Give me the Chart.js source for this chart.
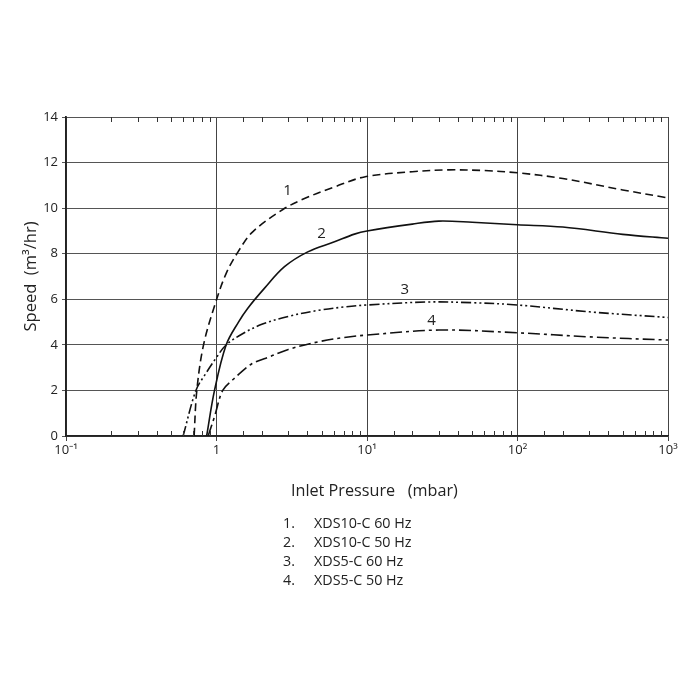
<!DOCTYPE html>
<html>
<head>
<meta charset="utf-8">
<script src="https://cdn.jsdelivr.net/npm/chart.js@4.4.1/dist/chart.umd.min.js"></script>
<style>
  body{margin:0;background:#fff;font-family:"Open Sans",sans-serif;color:#222;}
  #wrap{position:relative;width:700px;height:700px;}
  #xtitle{position:absolute;left:291px;top:479px;font-size:16.2px;white-space:pre;}
  #legend{position:absolute;left:283px;top:513px;font-size:14.3px;line-height:19px;margin:0;padding:0;list-style:none;white-space:pre;}
  #legend span{display:inline-block;width:31px;}
</style>
</head>
<body>
<div id="wrap">
  <canvas id="chart"></canvas>
  <div id="xtitle"></div>
  <ul id="legend"></ul>
</div>
<script>
// values (pressure in mbar, speed in m3/hr)
const names = ['XDS10-C 60 Hz','XDS10-C 50 Hz','XDS5-C 60 Hz','XDS5-C 50 Hz'];

const p1 = [0.71,0.74,0.82,0.98,1.16,1.39,1.74,2.76,3.84,6.08,9.6,20,35,60,100,200,500,1000];
const s1 = [0,2,4,5.8,7.14,8.08,8.96,9.94,10.42,10.93,11.37,11.6,11.68,11.65,11.55,11.3,10.8,10.45];

const p2 = [0.86,0.97,1.16,1.4,1.61,2.08,2.83,4.04,6.08,8.25,10,20,30,50,100,200,500,1000];
const s2 = [0,2,4,5.0,5.6,6.48,7.43,8.08,8.52,8.86,9.0,9.3,9.43,9.38,9.27,9.17,8.85,8.68];

const p3 = [0.6,0.73,0.85,1.0,1.16,1.5,2,3,4.8,7,10,25,50,100,300,1000];
const s3 = [0,2,2.75,3.45,4,4.5,4.9,5.25,5.52,5.66,5.75,5.88,5.85,5.75,5.45,5.2];

const p4 = [0.88,0.97,1.1,1.3,1.7,2.3,3,4.8,7,10,30,100,300,1000];
const s4 = [0,0.85,2,2.5,3.15,3.5,3.8,4.14,4.32,4.43,4.65,4.53,4.35,4.21];

// curve number labels, in data units
const tagX = [2.97,4.98,17.8,26.8];
const tagY = [10.75,8.86,6.4,5.04];

const decades = [0.1,1,10,100,1000];
const xTickLabels = ['10\u207B\u00B9','1','10\u00B9','10\u00B2','10\u00B3'];
const yTicks = [0,2,4,6,8,10,12,14];

const dashes = [[8,4.5],[],[10,3,2,3,2,3],[12,4,3,4]];

document.getElementById('xtitle').textContent = 'Inlet Pressure   (mbar)';
document.getElementById('legend').innerHTML = names.map((n,i)=>'<li><span>'+(i+1)+'.</span>'+n+'</li>').join('');

const zip = (xs,ys)=>xs.map((x,i)=>({x:x,y:ys[i]}));
const series = [zip(p1,s1),zip(p2,s2),zip(p3,s3),zip(p4,s4)];

const isDecade = v => Math.abs(Math.log10(v) - Math.round(Math.log10(v))) < 1e-6;

// minor ticks inside the box, top and bottom
const minorTicks = {
  id:'minorTicks',
  afterDatasetsDraw(chart){
    const c = chart.ctx, xs = chart.scales.x, a = chart.chartArea;
    c.save();
    c.strokeStyle = '#333';
    c.lineWidth = 1;
    xs.ticks.forEach(t=>{
      if(isDecade(t.value)) return;
      const px = Math.round(xs.getPixelForValue(t.value)) + 0.5;
      c.beginPath();
      c.moveTo(px,a.bottom); c.lineTo(px,a.bottom-5);
      c.moveTo(px,a.top); c.lineTo(px,a.top+5);
      c.stroke();
    });
    c.restore();
  }
};

const curveTags = {
  id:'curveTags',
  afterDatasetsDraw(chart){
    const c = chart.ctx, xs = chart.scales.x, ys = chart.scales.y;
    c.save();
    c.fillStyle = '#222';
    c.font = '15px "Open Sans"';
    c.textAlign = 'center';
    c.textBaseline = 'middle';
    tagX.forEach((v,i)=>{
      c.fillText(String(i+1), xs.getPixelForValue(v), ys.getPixelForValue(tagY[i]));
    });
    c.restore();
  }
};

let ctx = document.getElementById('chart').getContext('2d');
let chart = new Chart(ctx,{
  type:'line',
  data:{
    datasets: series.map((d,i)=>({
      label:names[i],
      data:d,
      borderColor:'#111',
      borderWidth:1.6,
      borderDash:dashes[i],
      pointRadius:0,
      fill:false,
      tension:0.35,
    }))
  },
  options:{
    animation:false,
    responsive:true,
    maintainAspectRatio:false,
    layout:{padding:{left:0,top:117,right:32,bottom:234}},
    plugins:{
      legend:{display:false},
      tooltip:{enabled:false},
    },
    scales:{
      x:{
        type:'logarithmic',
        min:0.1,
        max:1000,
        afterFit:(s)=>{s.height = 30;},
        border:{color:'#222',width:1.8},
        grid:{
          color:(c)=> c.tick && isDecade(c.tick.value) ? '#444' : 'rgba(0,0,0,0)',
          lineWidth:1,
          tickLength:5,
        },
        ticks:{
          autoSkip:false,
          maxRotation:0,
          padding:1,
          color:'#222',
          font:{family:'Open Sans',size:13},
          callback:(v)=>{
            const k = decades.findIndex(d=>Math.abs(d-v)/d < 1e-6);
            return k < 0 ? '' : xTickLabels[k];
          }
        }
      },
      y:{
        type:'linear',
        min:0,
        max:14,
        afterFit:(s)=>{s.width = 66;},
        afterBuildTicks:(s)=>{s.ticks = yTicks.map(v=>({value:v}));},
        border:{color:'#222',width:1.8},
        grid:{color:'#555',lineWidth:1,tickLength:4},
        ticks:{
          padding:4,
          color:'#222',
          font:{family:'Open Sans',size:13},
        },
        title:{
          display:true,
          text:'Speed  (m\u00B3/hr)',
          color:'#222',
          font:{family:'Open Sans',size:16.5},
          padding:{top:21,bottom:0},
        }
      }
    }
  },
  plugins:[minorTicks,curveTags]
});
</script>
</body>
</html>
